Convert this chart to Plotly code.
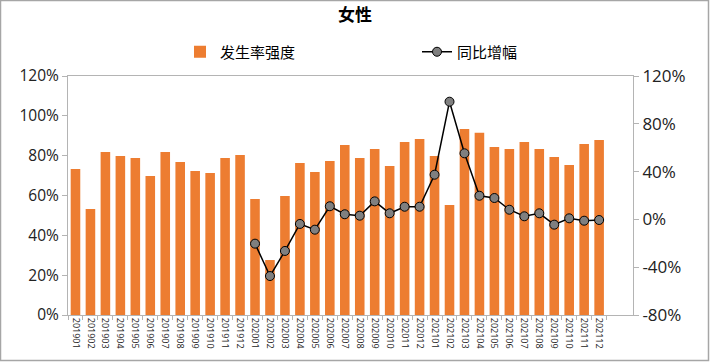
import plotly.graph_objects as go

months = ["201901","201902","201903","201904","201905","201906","201907","201908","201909","201910","201911","201912",
          "202001","202002","202003","202004","202005","202006","202007","202008","202009","202010","202011","202012",
          "202101","202102","202103","202104","202105","202106","202107","202108","202109","202110","202111","202112"]
intensity = [73.3, 53.2, 81.8, 79.8, 78.8, 69.8, 81.8, 76.8, 72.3, 71.3, 78.8, 80.3,
             58.2, 27.6, 59.7, 76.3, 71.8, 77.3, 85.4, 78.8, 83.3, 74.8, 86.9, 88.4,
             79.8, 55.2, 93.4, 91.5, 84.4, 83.3, 86.9, 83.3, 79.3, 75.3, 85.9, 87.9]
yoy_months = months[12:]
yoy = [-20.3, -47.4, -26.4, -3.8, -8.6, 11.0, 4.3, 3.1, 15.1, 5.1, 10.6, 10.6,
       37.4, 98.5, 55.3, 19.8, 17.9, 8.1, 2.6, 5.1, -4.4, 0.9, -1.1, -0.5]

left_ticks = [0, 20, 40, 60, 80, 100, 120]
right_ticks = [-80, -40, 0, 40, 80, 120]

FONT = "Noto Sans CJK SC, Open Sans, sans-serif"
NUMFONT = "Open Sans, Noto Sans CJK SC, sans-serif"

fig = go.Figure()
fig.add_trace(go.Bar(x=months, y=intensity, name="发生率强度",
                     marker=dict(color="#ED7D31", line=dict(width=0)), yaxis="y"))
fig.add_trace(go.Scatter(x=yoy_months, y=yoy, name="同比增幅", mode="lines+markers",
                         line=dict(color="#000000", width=1.5),
                         marker=dict(color="#7F7F7F", size=9, line=dict(color="#000000", width=1)),
                         yaxis="y2"))

W, H = 710, 362
ml, mr, mt, mb = 68, 77, 76, 47
pw, ph = W - ml - mr, H - mt - mb

fig.update_layout(
    width=W, height=H,
    margin=dict(l=ml, r=mr, t=mt, b=mb, autoexpand=False),
    paper_bgcolor="white", plot_bgcolor="white",
    font=dict(family=FONT, color="#000000"),
    title=dict(text="<b>女性</b>", x=0.5, xanchor="center", yref="container", y=1 - 15 / H,
               yanchor="middle", font=dict(size=17, family=FONT)),
    showlegend=True,
    legend=dict(orientation="h", x=(180 - ml) / pw, xanchor="left", yref="container", y=1 - 52 / H,
                yanchor="middle", bgcolor="rgba(0,0,0,0)",
                font=dict(size=15, family=FONT), traceorder="normal", itemwidth=30,
                entrywidth=192, entrywidthmode="pixels"),
    bargap=0.36,
    xaxis=dict(type="category", tickangle=90, tickfont=dict(size=9, color="#222222", family=NUMFONT),
               showline=True, linecolor="#B4B4B4", linewidth=1, mirror=True,
               ticks="outside", ticklen=4, tickcolor="#B4B4B4", tickson="boundaries",
               showgrid=False, automargin=False),
    yaxis=dict(range=[0, 120], tickvals=left_ticks, ticktext=[f"{v}%" for v in left_ticks],
               tickfont=dict(size=15.5, color="#222222", family=NUMFONT), showline=True,
               linecolor="#B4B4B4", ticks="outside", ticklen=5, tickcolor="#B4B4B4",
               showgrid=False, zeroline=False, automargin=False),
    yaxis2=dict(range=[-80, 120], tickvals=right_ticks, ticktext=[f"{v}%" for v in right_ticks],
                overlaying="y", side="right", tickfont=dict(size=17, color="#222222", family=NUMFONT),
                showline=True, linecolor="#B4B4B4", ticks="outside", ticklen=5,
                tickcolor="#B4B4B4", showgrid=False, zeroline=False, automargin=False),
)

fig.add_shape(type="rect", xref="paper", yref="paper",
              x0=(0.5 - ml) / pw, x1=(W - 1.5 - ml) / pw,
              y0=(-(mb - 1.5)) / ph, y1=(H - mb - 0.5) / ph,
              line=dict(color="#A6A6A6", width=1.5), fillcolor="rgba(0,0,0,0)", layer="below")

fig.write_html("out.html", config={"displayModeBar": False},
               post_script="document.body.style.margin='0';document.body.style.overflow='hidden';")
